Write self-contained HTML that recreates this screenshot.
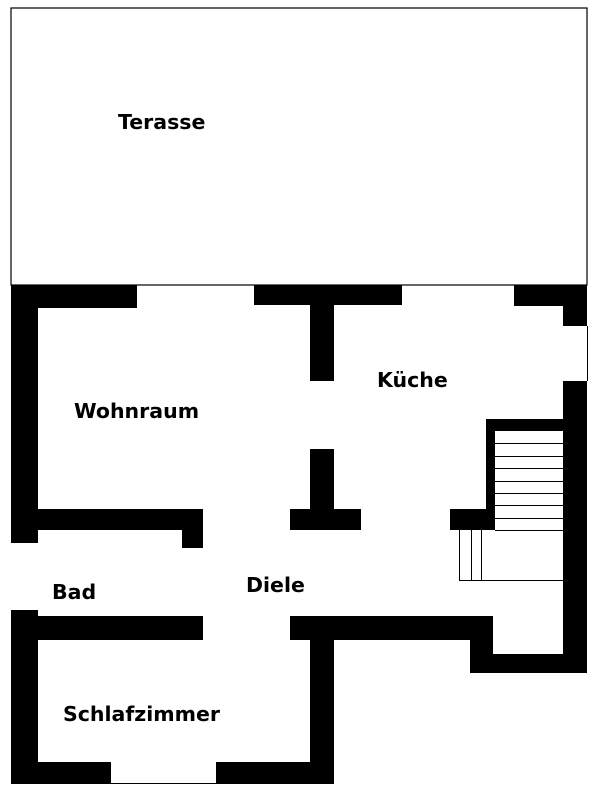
<!DOCTYPE html>
<html><head><style>
body{margin:0;background:#fff;}
svg{display:block}
text{font-family:"DejaVu Sans","Liberation Sans",sans-serif;font-size:20.5px;font-weight:bold;fill:#000}
</style></head><body>
<svg width="600" height="800" viewBox="0 0 600 800">
<rect x="11" y="8" width="576" height="277" fill="none" stroke="#000" stroke-width="1.2"/>
<g fill="#000">
<rect x="11" y="285" width="27" height="258"/>
<rect x="11" y="610" width="27" height="174"/>
<rect x="11" y="285" width="126" height="23"/>
<rect x="254" y="285" width="148" height="20"/>
<rect x="310" y="285" width="24" height="96"/>
<rect x="514" y="285" width="73" height="21"/>
<rect x="563" y="285" width="24" height="41"/>
<rect x="563" y="381" width="24" height="292"/>
<rect x="486" y="419" width="77" height="12"/>
<rect x="486" y="419" width="9" height="111"/>
<rect x="450" y="509" width="45" height="21"/>
<rect x="470" y="654" width="117" height="19"/>
<rect x="470" y="616" width="23" height="57"/>
<rect x="290" y="616" width="203" height="24"/>
<rect x="310" y="616" width="24" height="168"/>
<rect x="310" y="449" width="24" height="70"/>
<rect x="290" y="509" width="71" height="21"/>
<rect x="11" y="509" width="192" height="21"/>
<rect x="182" y="509" width="21" height="39"/>
<rect x="11" y="616" width="192" height="24"/>
<rect x="11" y="762" width="100" height="22"/>
<rect x="216" y="762" width="118" height="22"/>
</g>
<g stroke="#000" stroke-width="1">
<line x1="495" y1="443.5" x2="563" y2="443.5"/>
<line x1="495" y1="456.5" x2="563" y2="456.5"/>
<line x1="495" y1="468.5" x2="563" y2="468.5"/>
<line x1="495" y1="481.5" x2="563" y2="481.5"/>
<line x1="495" y1="493.5" x2="563" y2="493.5"/>
<line x1="495" y1="505.5" x2="563" y2="505.5"/>
<line x1="495" y1="518.5" x2="563" y2="518.5"/>
<line x1="495" y1="530.5" x2="563" y2="530.5"/>
<line x1="459.5" y1="530" x2="459.5" y2="580"/>
<line x1="471.5" y1="530" x2="471.5" y2="580"/>
<line x1="481.5" y1="530" x2="481.5" y2="580"/>
<line x1="459" y1="580.5" x2="563" y2="580.5"/>
<line x1="111" y1="783.5" x2="216" y2="783.5"/>
<line x1="587.5" y1="326" x2="587.5" y2="381"/>
</g>
<text x="118" y="129">Terasse</text>
<text x="74" y="418">Wohnraum</text>
<text x="377" y="387">Küche</text>
<text x="52" y="599">Bad</text>
<text x="246" y="592">Diele</text>
<text x="63" y="721">Schlafzimmer</text>
</svg>
</body></html>
